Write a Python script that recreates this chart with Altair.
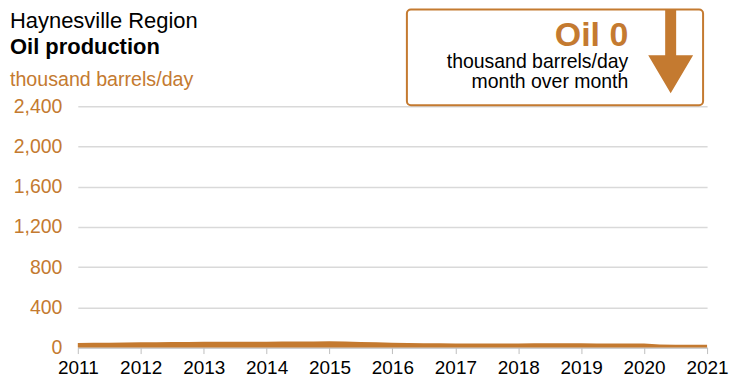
import altair as alt
import pandas as pd

ORANGE = "#c47a30"
FONT = "Liberation Sans"

# Quarterly oil production, thousand barrels/day
dates = [
    "2011-01-01", "2011-04-01", "2011-07-01", "2011-10-01",
    "2012-01-01", "2012-04-01", "2012-07-01", "2012-10-01",
    "2013-01-01", "2013-04-01", "2013-07-01", "2013-10-01",
    "2014-01-01", "2014-04-01", "2014-07-01", "2014-10-01",
    "2015-01-01", "2015-04-01", "2015-07-01", "2015-10-01",
    "2016-01-01", "2016-04-01", "2016-07-01", "2016-10-01",
    "2017-01-01", "2017-04-01", "2017-07-01", "2017-10-01",
    "2018-01-01", "2018-04-01", "2018-07-01", "2018-10-01",
    "2019-01-01", "2019-04-01", "2019-07-01", "2019-10-01",
    "2020-01-01", "2020-04-01", "2020-07-01", "2020-10-01",
    "2021-01-01",
]
oil = [
    45, 47, 49, 51,
    53, 54, 55, 56,
    57, 58, 58, 59,
    59, 60, 60, 61,
    62, 60, 56, 52,
    48, 45, 43, 42,
    41, 41, 41, 41,
    41, 42, 42, 42,
    42, 41, 41, 40,
    40, 30, 28, 28,
    28,
]
y_ticks = [0, 400, 800, 1200, 1600, 2000, 2400]
x_years = list(range(2011, 2022))

region_title = "Haynesville Region"
chart_title = "Oil production"
unit_label = "thousand barrels/day"
box_value = "Oil 0"
box_line1 = "thousand barrels/day"
box_line2 = "month over month"

df = pd.DataFrame({"date": [d + "T00:00:00" for d in dates], "oil": oil})
one = pd.DataFrame({"k": [0]})

area = alt.Chart(df).mark_area(color=ORANGE, opacity=1).encode(
    x=alt.X(
        "date:T",
        scale=alt.Scale(domain=[alt.DateTime(year=2011, month=1, date=1),
                                alt.DateTime(year=2021, month=1, date=1)]),
        axis=alt.Axis(
            values=[alt.DateTime(year=y, month=1, date=1) for y in x_years],
            format="%Y", title=None, grid=False, labelFlush=False,
            labelOverlap=False, domainColor="#bfbfbf", tickColor="#bfbfbf",
            tickSize=6, labelFontSize=19, labelColor="black", labelPadding=5,
            labelFont=FONT,
        ),
    ),
    y=alt.Y(
        "oil:Q",
        scale=alt.Scale(domain=[0, 2400]),
        axis=alt.Axis(
            values=y_ticks, format=",.0f", title=None, domain=False, ticks=False,
            labelColor=ORANGE, labelFontSize=19.5, labelPadding=16,
            gridColor="#d9d9d9", gridWidth=1.5, labelFont=FONT,
        ),
    ),
)


def text_layer(txt, x, y, size, color, weight="normal", align="left"):
    return alt.Chart(pd.DataFrame({"t": [txt]})).mark_text(
        align=align, baseline="alphabetic", font=FONT, fontSize=size,
        fontWeight=weight, color=color,
    ).encode(text="t:N", x=alt.value(x), y=alt.value(y))


t1 = text_layer(region_title, -68, -78, 22, "black")
t2 = text_layer(chart_title, -68, -52, 22, "black", weight="bold")
t3 = text_layer(unit_label, -68, -20, 19.7, ORANGE)

box = alt.Chart(one).mark_rect(
    filled=False, color=ORANGE, strokeWidth=2, cornerRadius=4
).encode(x=alt.value(330), x2=alt.value(627), y=alt.value(-97), y2=alt.value(-1))

b1 = text_layer(box_value, 552, -60, 34, ORANGE, weight="bold", align="right")
b2 = text_layer(box_line1, 552, -38, 19.5, "black", align="right")
b3 = text_layer(box_line2, 552, -18, 19.5, "black", align="right")

arrow_path = ("M-0.131,-1 L0.131,-1 L0.131,0.095 L0.536,0.095 L0,1 "
              "L-0.536,0.095 L-0.131,0.095 Z")
arrow = alt.Chart(one).mark_point(
    shape=arrow_path, filled=True, color=ORANGE, opacity=1, size=7056, strokeWidth=0
).encode(x=alt.value(594.5), y=alt.value(-55))

chart = alt.layer(area, t1, t2, t3, box, b1, b2, b3, arrow).properties(
    width=631, height=242, autosize="none",
    padding={"left": 70, "top": 98, "right": 25, "bottom": 31},
    background="white",
).configure(font=FONT).configure_view(strokeWidth=0)

chart.save("out.html", embed_options={"renderer": "svg", "actions": False})
